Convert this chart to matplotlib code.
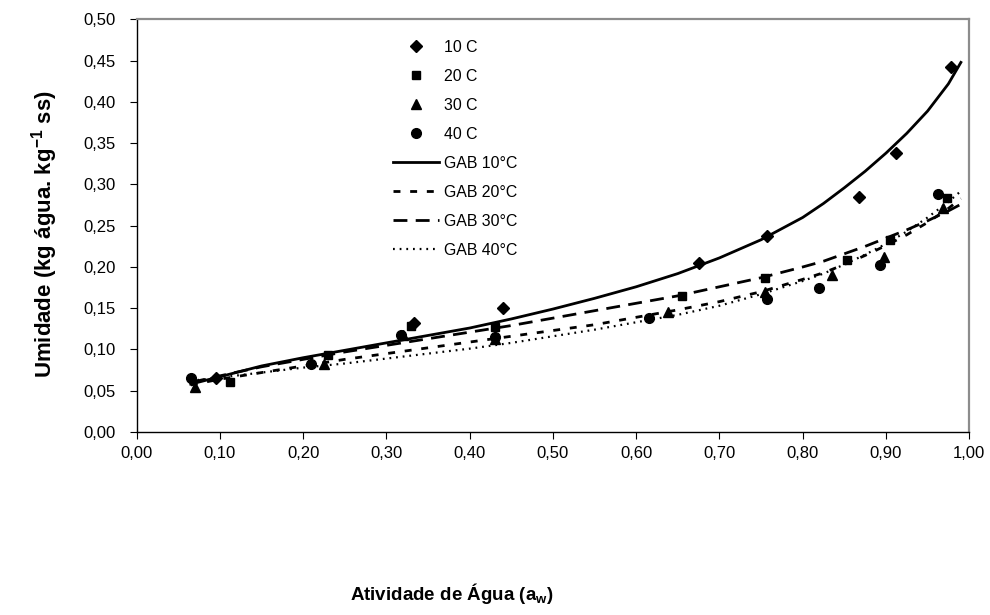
import matplotlib
matplotlib.use('Agg')
import matplotlib.pyplot as plt
from matplotlib.ticker import FuncFormatter, MultipleLocator

plt.rcParams['font.family'] = ['Liberation Sans', 'DejaVu Sans']

# measured points
aw_10 = [0.095, 0.333, 0.44, 0.675, 0.757, 0.868, 0.912, 0.978]
m_10 = [0.066, 0.132, 0.150, 0.205, 0.237, 0.285, 0.338, 0.443]

aw_20 = [0.112, 0.23, 0.33, 0.43, 0.655, 0.755, 0.853, 0.905, 0.973]
m_20 = [0.060, 0.093, 0.128, 0.127, 0.165, 0.187, 0.209, 0.233, 0.284]

aw_30 = [0.07, 0.225, 0.32, 0.43, 0.638, 0.755, 0.835, 0.898, 0.968]
m_30 = [0.055, 0.082, 0.118, 0.113, 0.145, 0.170, 0.190, 0.212, 0.271]

aw_40 = [0.065, 0.21, 0.318, 0.43, 0.615, 0.757, 0.82, 0.893, 0.962]
m_40 = [0.065, 0.082, 0.118, 0.115, 0.138, 0.161, 0.175, 0.202, 0.288]

# GAB curves
aw_gab = [0.065, 0.10, 0.15, 0.20, 0.25, 0.30, 0.35, 0.40, 0.45, 0.50,
          0.55, 0.60, 0.65, 0.70, 0.75, 0.80, 0.825, 0.85, 0.875, 0.90,
          0.925, 0.95, 0.975, 0.99]
gab_10 = [0.058, 0.067, 0.080, 0.090, 0.099, 0.108, 0.117, 0.126, 0.137, 0.149,
          0.162, 0.176, 0.192, 0.211, 0.233, 0.260, 0.277, 0.296, 0.316, 0.338,
          0.362, 0.389, 0.422, 0.448]
gab_20 = [0.057, 0.064, 0.072, 0.080, 0.088, 0.095, 0.102, 0.109, 0.116, 0.123,
          0.130, 0.139, 0.148, 0.158, 0.170, 0.185, 0.193, 0.203, 0.214, 0.226,
          0.239, 0.254, 0.271, 0.283]
gab_30 = [0.060, 0.068, 0.079, 0.088, 0.097, 0.105, 0.113, 0.121, 0.129, 0.138,
          0.147, 0.156, 0.165, 0.176, 0.187, 0.200, 0.207, 0.216, 0.225, 0.235,
          0.245, 0.256, 0.268, 0.276]
gab_40 = [0.062, 0.066, 0.072, 0.078, 0.083, 0.089, 0.095, 0.101, 0.108, 0.116,
          0.124, 0.133, 0.142, 0.153, 0.167, 0.183, 0.192, 0.203, 0.215, 0.228,
          0.243, 0.260, 0.279, 0.292]

fig = plt.figure(figsize=(9.9, 6.15), dpi=100)
ax = fig.add_axes([0.138, 0.2976, 0.841, 0.6707])

ax.plot(aw_10, m_10, 'D', color='black', ms=6, ls='none', label='10 C')
ax.plot(aw_20, m_20, 's', color='black', ms=6, ls='none', label='20 C')
ax.plot(aw_30, m_30, '^', color='black', ms=7, ls='none', label='30 C')
ax.plot(aw_40, m_40, 'o', color='black', ms=7, ls='none', label='40 C')

ax.plot(aw_gab, gab_10, color='black', lw=2.0, ls='-', label='GAB 10°C')
ax.plot(aw_gab, gab_20, color='black', lw=2.0, ls=(0, (2.5, 3.5)), label='GAB 20°C')
ax.plot(aw_gab, gab_30, color='black', lw=2.0, ls=(0, (5, 3)), label='GAB 30°C')
ax.plot(aw_gab, gab_40, color='black', lw=1.6, ls=(0, (0.8, 2.2)), label='GAB 40°C')

ax.set_xlim(0, 1.0)
ax.set_ylim(0, 0.5)
ax.xaxis.set_major_locator(MultipleLocator(0.1))
ax.yaxis.set_major_locator(MultipleLocator(0.05))
fmt = FuncFormatter(lambda v, p: ('%.2f' % v).replace('.', ','))
ax.xaxis.set_major_formatter(fmt)
ax.yaxis.set_major_formatter(fmt)
ax.tick_params(direction='out', length=5, width=0.8, labelsize=12, colors='black')
ax.tick_params(axis='x', pad=5)
ax.tick_params(axis='y', pad=10)

for side in ['top', 'right']:
    ax.spines[side].set_color('#8c8c8c')
    ax.spines[side].set_linewidth(1.6)
for side in ['left', 'bottom']:
    ax.spines[side].set_color('black')
    ax.spines[side].set_linewidth(1.0)

fig.text(45 / 990, 1 - 234 / 615, 'Umidade (kg água. kg$^{\\mathregular{-1}}$ ss)',
         fontsize=16, fontweight='bold', rotation=90, ha='center', va='center')
fig.text(452 / 990, 1 - 594 / 615, 'Atividade de Água (a$_\\mathregular{w}$)',
         fontsize=13.5, fontweight='bold', ha='center', va='center')

ax.legend(loc='upper left', bbox_to_anchor=(0.291, 0.985), frameon=False,
          fontsize=11.4, handlelength=2.9, labelspacing=0.885, handletextpad=0.3)

fig.savefig('out.png', dpi=100)
